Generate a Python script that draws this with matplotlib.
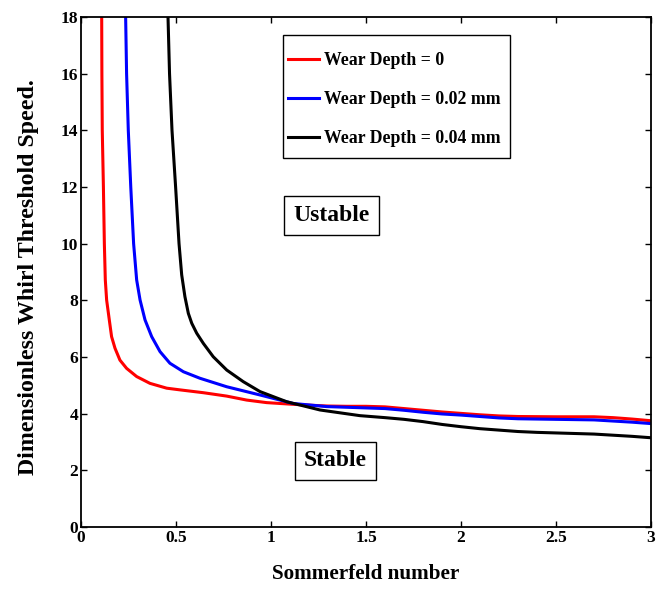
import matplotlib
matplotlib.use("Agg")
import matplotlib.pyplot as plt
from matplotlib.patches import Rectangle

plt.rcParams['font.family'] = ['Liberation Serif', 'DejaVu Serif']
plt.rcParams['font.weight'] = 'bold'
plt.rcParams['axes.labelweight'] = 'bold'

# Whirl threshold speed vs Sommerfeld number for three wear depths
s_w0 = [0.109, 0.110, 0.112, 0.118, 0.123, 0.128, 0.135, 0.149, 0.161, 0.179, 0.205,
        0.240, 0.293, 0.363, 0.451, 0.521, 0.644, 0.767, 0.872, 0.977, 1.117, 1.2,
        1.3, 1.4, 1.5, 1.6, 1.7, 1.8, 1.9, 2.0, 2.1, 2.2, 2.3, 2.5, 2.7, 2.8, 2.9, 3.0]
w_w0 = [18, 16, 14, 12, 10, 8.72, 8.01, 7.31, 6.72, 6.31, 5.89,
        5.60, 5.31, 5.07, 4.90, 4.84, 4.74, 4.62, 4.48, 4.39, 4.33, 4.3,
        4.27, 4.26, 4.26, 4.24, 4.18, 4.12, 4.06, 4.01, 3.96, 3.92, 3.9, 3.89, 3.89,
        3.86, 3.81, 3.75]

s_w02 = [0.235, 0.24, 0.249, 0.262, 0.277, 0.293, 0.311, 0.337, 0.372, 0.416, 0.468,
         0.539, 0.626, 0.767, 0.942, 1.117, 1.293, 1.468, 1.6, 1.7, 1.8, 1.9,
         2.0, 2.1, 2.2, 2.3, 2.5, 2.7, 2.8, 2.9, 3.0]
w_w02 = [18, 16, 14, 12, 10, 8.72, 8.01, 7.31, 6.72, 6.19, 5.78,
         5.48, 5.25, 4.95, 4.66, 4.36, 4.25, 4.21, 4.18, 4.12, 4.05, 3.99,
         3.95, 3.9, 3.85, 3.82, 3.8, 3.78, 3.74, 3.7, 3.65]

s_w04 = [0.458, 0.466, 0.479, 0.498, 0.516, 0.530, 0.547, 0.565, 0.583, 0.609, 0.644,
         0.696, 0.767, 0.854, 0.942, 1.083, 1.258, 1.468, 1.6, 1.7, 1.8, 1.9,
         2.0, 2.1, 2.2, 2.3, 2.4, 2.5, 2.6, 2.7, 2.8, 2.9, 3.0]
w_w04 = [18, 16, 14, 12, 10, 8.9, 8.13, 7.54, 7.19, 6.84, 6.48,
         6.01, 5.54, 5.13, 4.78, 4.42, 4.13, 3.93, 3.86, 3.8, 3.72, 3.62,
         3.54, 3.47, 3.42, 3.37, 3.34, 3.32, 3.3, 3.28, 3.24, 3.2, 3.15]

fig = plt.figure(figsize=(6.66, 5.93), dpi=100)
ax = fig.add_axes([0.1216, 0.1113, 0.8559, 0.86])

ax.plot(s_w0, w_w0, color='red', lw=2.2, label='Wear Depth = 0')
ax.plot(s_w02, w_w02, color='blue', lw=2.2, label='Wear Depth = 0.02 mm')
ax.plot(s_w04, w_w04, color='black', lw=2.2, label='Wear Depth = 0.04 mm')

ax.set_xlim(0, 3)
ax.set_ylim(0, 18)
ax.set_xticks([0, 0.5, 1, 1.5, 2, 2.5, 3])
ax.set_xticklabels(['0', '0.5', '1', '1.5', '2', '2.5', '3'])
ax.set_yticks(range(0, 19, 2))
ax.tick_params(direction='in', top=True, right=True, length=4, width=1,
               labelsize=12.5, pad=2)
for sp in ax.spines.values():
    sp.set_linewidth(1.3)

ax.set_xlabel('Sommerfeld number', fontsize=15.2)
ax.set_ylabel('Dimensionless Whirl Threshold Speed.', fontsize=17.2)
ax.xaxis.set_label_coords(0.5, -0.072)
ax.yaxis.set_label_coords(-0.074, 0.49)

# legend frame drawn separately so the padding can differ per side
ax.add_patch(Rectangle((0.354, 0.7235), 0.399, 0.2412, transform=ax.transAxes,
                       facecolor='white', edgecolor='black', lw=1.0, zorder=4))
leg = ax.legend(loc='upper left', bbox_to_anchor=(0.363, 0.931), fontsize=12.8,
                frameon=False, borderpad=0, borderaxespad=0,
                handlelength=1.75, labelspacing=1.23, handletextpad=0.3)
leg.set_zorder(5)

box = dict(boxstyle='square,pad=0.38', facecolor='white', edgecolor='black', lw=1)
ax.text(1.318, 11.01, 'Ustable', fontsize=17, ha='center', va='center', bbox=box)
ax.text(1.337, 2.33, 'Stable', fontsize=17, ha='center', va='center', bbox=box)

fig.savefig('out.png', dpi=100)
